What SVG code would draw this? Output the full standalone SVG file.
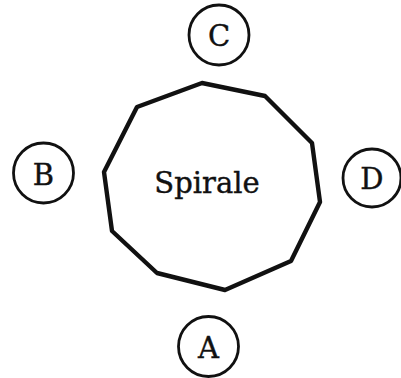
<svg xmlns="http://www.w3.org/2000/svg" width="401" height="378" viewBox="0 0 401 378">
<style>
.n{fill:#fff;stroke:#111;stroke-width:2.8}
.t{font-family:"DejaVu Serif","Liberation Serif",serif;font-size:29px;fill:#111;stroke:#111;stroke-width:0.4;text-anchor:middle}
.p{fill:#fff;stroke:#111;stroke-width:4.4;stroke-linejoin:round}
</style>
<rect width="401" height="378" fill="#fff"/>
<g id="spirale">
<polygon class="p" points="202,83 265,96 312,143 320,202 291,261 225,290 157,273 112,231 104,172 137,107"/>
<text class="t" x="207" y="193">Spirale</text>
</g>
<g id="C"><circle class="n" cx="219" cy="35" r="30"/><text class="t" x="219" y="46">C</text></g>
<g id="B"><circle class="n" cx="43.5" cy="173" r="30"/><text class="t" x="43.5" y="185">B</text></g>
<g id="D"><circle class="n" cx="372" cy="178" r="29"/><text class="t" x="372" y="189">D</text></g>
<g id="A"><circle class="n" cx="208.5" cy="346.5" r="30"/><text class="t" x="208.5" y="358">A</text></g>
<g id="connectors"></g>
</svg>
